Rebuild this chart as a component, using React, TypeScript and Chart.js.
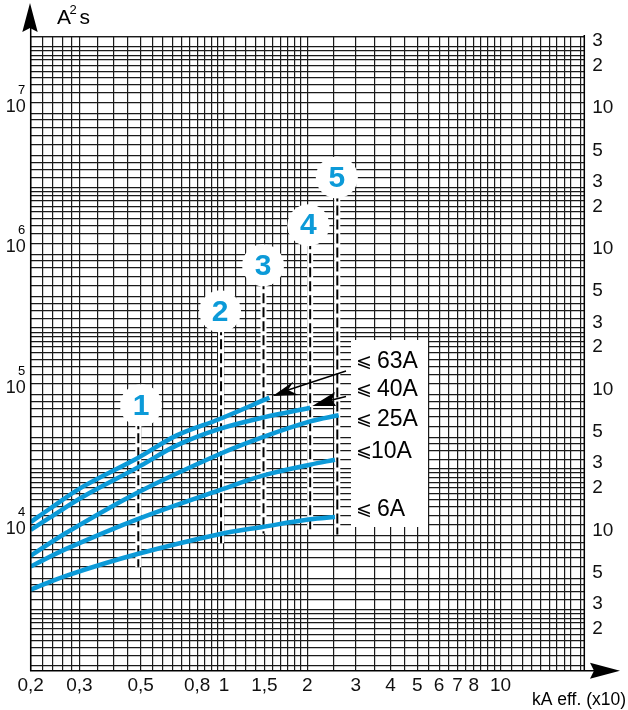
import React, { useEffect, useRef } from "react";
import { Chart, registerables } from "chart.js";

Chart.register(...registerables);

const FONT = '"Liberation Sans", Arial, sans-serif';
const BLUE = "#0c9ad8";

// --- grid ---
const xGrid = [
  0.2, 0.22, 0.24, 0.26, 0.28, 0.3, 0.35, 0.4, 0.45, 0.5, 0.55, 0.6, 0.65, 0.7, 0.75, 0.8, 0.85, 0.9, 0.95,
  1, 1.1, 1.2, 1.3, 1.4, 1.5, 1.6, 1.7, 1.8, 1.9, 2, 2.5, 3, 3.5, 4, 4.5, 5, 5.5, 6, 6.5, 7, 7.5, 8, 8.5, 9, 9.5,
  10, 11, 12, 13, 14, 15, 16, 17, 18, 19.5,
];
const yMantissas = [1, 1.2, 1.4, 1.6, 1.8, 2, 2.2, 2.4, 2.6, 2.8, 3, 3.5, 4, 4.5, 5, 6, 7, 8, 9];
const yDecades = [1e3, 1e4, 1e5, 1e6, 1e7];
const X_MIN = 0.2;
const X_MAX = 20.1;
const Y_MIN = 1100;
const Y_MAX = 3.5e7;

// --- tick labels (the "1,5" label sits on the grid line at 1.4 in the reference) ---
const xLabelValues = [0.2, 0.3, 0.5, 0.8, 1, 1.4, 2, 3, 4, 5, 6, 7, 8, 10];
const xLabelTexts = ["0,2", "0,3", "0,5", "0,8", "1", "1,5", "2", "3", "4", "5", "6", "7", "8", "10"];
const leftLabelValues = [1e4, 1e5, 1e6, 1e7];
const leftExponents = ["4", "5", "6", "7"];
const rightLabelValues = [3e3, 2e3, 5e3, 1e4, 3e4, 2e4, 5e4, 1e5, 3e5, 2e5, 5e5, 1e6, 3e6, 2e6, 5e6, 1e7, 3e7, 2e7];
const rightLabelTexts = ["3", "2", "5", "10", "3", "2", "5", "10", "3", "2", "5", "10", "3", "2", "5", "10", "3", "2"];

// --- curves ---
const x63A = [0.2, 0.235, 0.31, 0.49, 0.675, 0.97, 1.46];
const y63A = [12500, 15630, 22440, 35900, 51700, 67900, 95800];
const x40A = [0.2, 0.235, 0.31, 0.49, 0.675, 0.97, 1.39, 2.05];
const y40A = [11000, 13500, 19030, 30760, 43900, 57700, 69400, 81300];
const x25A = [0.2, 0.27, 0.49, 0.97, 1.39, 2.05, 2.6];
const y25A = [7210, 10550, 20400, 38300, 50500, 65000, 71800];
const x10A = [0.2, 0.27, 0.49, 0.97, 1.39, 2.05, 2.52];
const y10A = [6050, 8100, 13200, 21200, 26850, 32000, 34700];
const x6A = [0.2, 0.27, 0.49, 0.97, 1.39, 2.05, 2.52];
const y6A = [4150, 5220, 7450, 10300, 11600, 13100, 13600];

// --- numbered dashed columns ---
const columnNames = ["1", "2", "3", "4", "5"];
const columnX = [0.49, 0.976, 1.39, 2.05, 2.57];
const columnBottom = [5980, 8860, 10380, 11090, 10210];
const bubbleX = [0.501, 0.968, 1.385, 2.02, 2.56];
const bubbleY = [84500, 393700, 836000, 1611000, 3520000];

// --- curve captions ---
const captionTexts = ["63A", "40A", "25A", "10A", "6A"];
const captionSignX = [356, 356, 356, 356, 356];
const captionTextX = [377, 377, 377, 371, 377];
const captionBaseline = [368, 396, 426, 458, 516];

const yGrid = yDecades
  .flatMap((d) => yMantissas.map((m) => m * d))
  .filter((v) => v >= Y_MIN && v <= Y_MAX);
yGrid.push(Y_MAX);

const near = (a: number, b: number) => Math.abs(a - b) / b < 1e-6;
const points = (xs: number[], ys: number[]) => xs.map((x, i) => ({ x, y: ys[i] }));

function arrowHead(ctx: CanvasRenderingContext2D, pts: number[][]) {
  ctx.beginPath();
  pts.forEach(([x, y], i) => (i ? ctx.lineTo(x, y) : ctx.moveTo(x, y)));
  ctx.closePath();
  ctx.fill();
}

const decorations = {
  id: "decorations",
  beforeDatasetsDraw(chart: any) {
    const ctx = chart.ctx as CanvasRenderingContext2D;
    ctx.save();
    ctx.fillStyle = "#fff";
    ctx.fillRect(351, 340, 77, 187);
    ctx.restore();
  },
  afterDatasetsDraw(chart: any) {
    const ctx = chart.ctx as CanvasRenderingContext2D;
    const { left, right, top, bottom } = chart.chartArea;
    const yScale = chart.scales.y;
    ctx.save();

    // axes and arrows
    ctx.strokeStyle = "#000";
    ctx.fillStyle = "#000";
    ctx.lineWidth = 1.5;
    ctx.beginPath();
    ctx.moveTo(left, 25);
    ctx.lineTo(left, bottom);
    ctx.lineTo(595, bottom);
    ctx.moveTo(right, top - 2);
    ctx.lineTo(right, bottom);
    ctx.stroke();
    arrowHead(ctx, [[30, 3], [22.3, 32], [30, 28], [37.7, 32]]);
    arrowHead(ctx, [[620, bottom], [590, bottom - 8], [594, bottom], [590, bottom + 8]]);

    // pointers from captions to curves
    ctx.lineWidth = 1.4;
    ctx.beginPath();
    ctx.moveTo(346, 371);
    ctx.lineTo(285, 391);
    ctx.moveTo(346, 396.5);
    ctx.lineTo(332, 400);
    ctx.stroke();
    arrowHead(ctx, [[272.7, 396], [293.5, 381.5], [288, 390], [298.5, 395]]);
    arrowHead(ctx, [[312.3, 406], [335, 392], [332, 400], [336, 406]]);

    // axis titles
    ctx.textBaseline = "alphabetic";
    ctx.textAlign = "left";
    ctx.font = `21px ${FONT}`;
    ctx.fillText("A", 57, 24);
    ctx.fillText("s", 79.5, 24);
    ctx.font = `13px ${FONT}`;
    ctx.fillText("2", 69.5, 14);
    ctx.font = `17.5px ${FONT}`;
    ctx.fillText("kA eff. (x10)", 532, 705);

    // exponents of the left axis
    ctx.font = `13px ${FONT}`;
    ctx.textAlign = "right";
    leftLabelValues.forEach((v, i) => {
      ctx.fillText(leftExponents[i], 25.3, yScale.getPixelForValue(v) - 20);
    });

    // curve captions
    ctx.textAlign = "left";
    captionTexts.forEach((t, i) => {
      ctx.font = `19px "DejaVu Sans", ${FONT}`;
      ctx.fillText("\u2A7D", captionSignX[i], captionBaseline[i] - 1);
      ctx.font = `23px ${FONT}`;
      ctx.fillText(t, captionTextX[i], captionBaseline[i]);
    });

    // numbers in the white bubbles
    const meta = chart.getDatasetMeta(chart.data.datasets.findIndex((d: any) => d.label === "bubbles"));
    ctx.fillStyle = BLUE;
    ctx.font = `bold 30px ${FONT}`;
    ctx.textAlign = "center";
    ctx.textBaseline = "middle";
    meta.data.forEach((el: any, i: number) => ctx.fillText(columnNames[i], el.x, el.y + 1));
    ctx.restore();
  },
};

export default function App() {
  const ref = useRef<HTMLCanvasElement>(null);

  useEffect(() => {
    const curve = (label: string, xs: number[], ys: number[]) => ({
      label,
      data: points(xs, ys),
      borderColor: BLUE,
      borderWidth: 4.5,
      pointRadius: 0,
      tension: 0.35,
      order: 1,
    });
    const columns = (label: string, color: string, width: number, dash: number[], order: number) =>
      columnX.map((x, i) => ({
        label: `${label}${i}`,
        data: [
          { x, y: bubbleY[i] },
          { x, y: columnBottom[i] },
        ],
        borderColor: color,
        borderWidth: width,
        borderDash: dash,
        pointRadius: 0,
        order,
      }));

    const chart = new Chart(ref.current!, {
      type: "line",
      data: {
        datasets: [
          {
            label: "bubbles",
            data: points(bubbleX, bubbleY),
            showLine: false,
            pointRadius: 21,
            pointBackgroundColor: "#fff",
            pointBorderWidth: 0,
            order: 0,
          },
          curve("63A", x63A, y63A),
          curve("40A", x40A, y40A),
          curve("25A", x25A, y25A),
          curve("10A", x10A, y10A),
          curve("6A", x6A, y6A),
          ...columns("dash", "#000", 2, [10, 4], 2),
          ...columns("halo", "#fff", 6, [], 3),
        ] as any,
      },
      options: {
        animation: false,
        responsive: false,
        events: [],
        layout: { padding: { top: 37, left: 0, right: 0, bottom: 0 } },
        plugins: { legend: { display: false }, tooltip: { enabled: false } },
        scales: {
          x: {
            type: "logarithmic",
            min: X_MIN,
            max: X_MAX,
            afterBuildTicks: (s: any) => {
              s.ticks = xGrid.map((value) => ({ value }));
            },
            afterFit: (s: any) => {
              s.height = 39.3;
            },
            grid: { color: "#1a1a1a", lineWidth: 1.2, drawTicks: false },
            border: { display: false },
            ticks: {
              autoSkip: false,
              maxRotation: 0,
              minRotation: 0,
              padding: 4,
              color: "#111",
              font: { family: FONT, size: 19 },
              callback: (v: any) => {
                const i = xLabelValues.findIndex((l) => near(Number(v), l));
                return i >= 0 ? xLabelTexts[i] : "";
              },
            },
          },
          y: {
            type: "logarithmic",
            position: "left",
            min: Y_MIN,
            max: Y_MAX,
            afterBuildTicks: (s: any) => {
              s.ticks = yGrid.map((value) => ({ value }));
            },
            afterFit: (s: any) => {
              s.width = 30.7;
            },
            grid: { color: "#1a1a1a", lineWidth: 1.2, drawTicks: false },
            border: { display: false },
            ticks: {
              autoSkip: false,
              padding: 5,
              labelOffset: -7,
              color: "#111",
              font: { family: FONT, size: 18 },
              callback: (v: any) => (leftLabelValues.some((l) => near(Number(v), l)) ? "10" : ""),
            },
          },
          yRight: {
            type: "logarithmic",
            position: "right",
            min: Y_MIN,
            max: Y_MAX,
            afterBuildTicks: (s: any) => {
              s.ticks = rightLabelValues.map((value) => ({ value })).sort((a, b) => a.value - b.value);
            },
            afterFit: (s: any) => {
              s.width = 43.7;
            },
            grid: { display: false, drawTicks: false },
            border: { display: false },
            ticks: {
              autoSkip: false,
              padding: 8,
              labelOffset: -5.5,
              color: "#111",
              font: { family: FONT, size: 19 },
              callback: (v: any) => {
                const i = rightLabelValues.findIndex((l) => near(Number(v), l));
                return i >= 0 ? rightLabelTexts[i] : "";
              },
            },
          },
        },
      } as any,
      plugins: [decorations],
    });
    return () => chart.destroy();
  }, []);

  return (
    <div style={{ position: "fixed", left: 0, top: 0, width: 628, height: 710, background: "#fff" }}>
      <canvas ref={ref} width={628} height={710} style={{ display: "block" }} />
    </div>
  );
}
